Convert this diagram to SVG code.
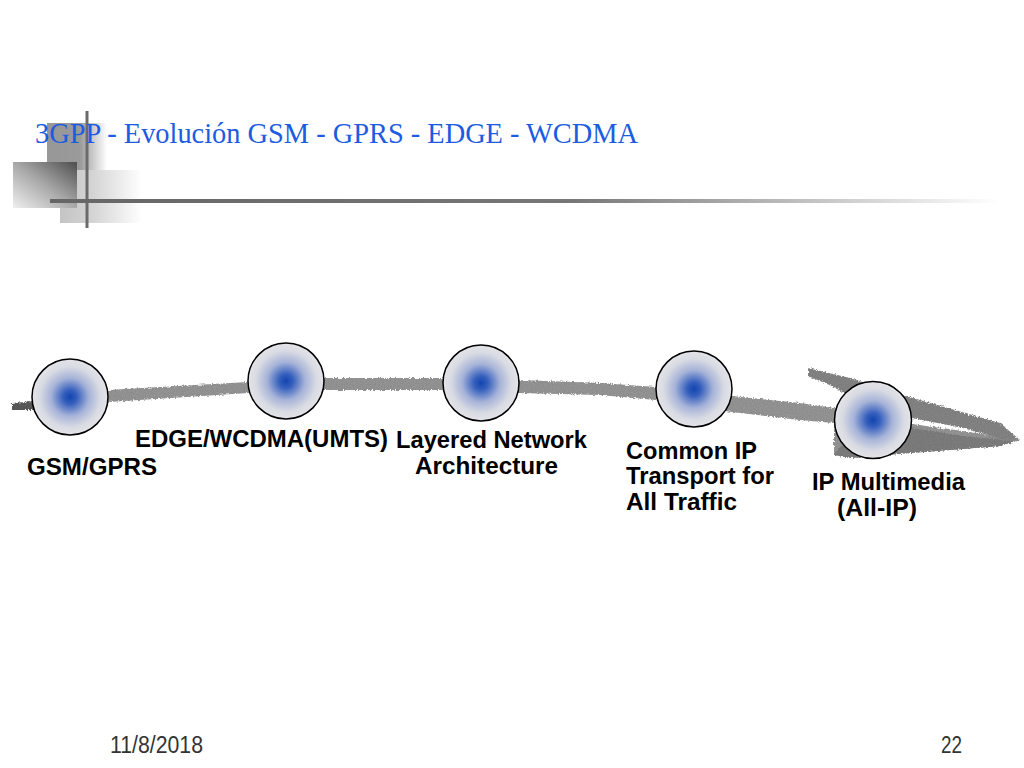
<svg xmlns="http://www.w3.org/2000/svg" width="1024" height="768" viewBox="0 0 1024 768">
<defs>
<style>
.lbl{font-family:"Liberation Sans",Arial,sans-serif;font-weight:bold;font-size:24px;fill:#000}
.foot{font-family:"Liberation Sans",Arial,sans-serif;font-size:23px;fill:#333}
.node{stroke:#000;stroke-width:1.5;fill:url(#ball)}
</style>
<radialGradient id="ball" cx="50%" cy="50%" r="50%">
<stop offset="0" stop-color="#1244ae"/>
<stop offset="0.18" stop-color="#355fbd"/>
<stop offset="0.5" stop-color="#a6b3d8"/>
<stop offset="0.8" stop-color="#d9dbe3"/>
<stop offset="1" stop-color="#e4e4e8"/>
</radialGradient>
<linearGradient id="sqA" x1="0" y1="0" x2="1" y2="0">
<stop offset="0" stop-color="#979797"/>
<stop offset="0.55" stop-color="#9a9a9a"/>
<stop offset="1" stop-color="#ffffff"/>
</linearGradient>
<linearGradient id="sqB" x1="0" y1="1" x2="1" y2="0">
<stop offset="0" stop-color="#efefef"/>
<stop offset="0.5" stop-color="#a8a8a8"/>
<stop offset="1" stop-color="#4e4e4e"/>
</linearGradient>
<linearGradient id="sqC" x1="0" y1="0" x2="1" y2="0">
<stop offset="0" stop-color="#c4c4c4"/>
<stop offset="0.4" stop-color="#d4d4d4"/>
<stop offset="1" stop-color="#ffffff"/>
</linearGradient>
<linearGradient id="hline" x1="50" y1="0" x2="1000" y2="0" gradientUnits="userSpaceOnUse">
<stop offset="0" stop-color="#666"/>
<stop offset="0.55" stop-color="#777"/>
<stop offset="1" stop-color="#fff"/>
</linearGradient>
<filter id="rough" x="-5%" y="-20%" width="110%" height="140%">
<feTurbulence type="fractalNoise" baseFrequency="0.6" numOctaves="2" seed="3" result="n"/>
<feDisplacementMap in="SourceGraphic" in2="n" scale="4" xChannelSelector="R" yChannelSelector="G" result="d"/>
<feTurbulence type="fractalNoise" baseFrequency="0.9" numOctaves="1" seed="7" result="n2"/>
<feColorMatrix in="n2" type="matrix" values="0 0 0 0 0  0 0 0 0 0  0 0 0 0 0  0 0 0 0.35 0" result="dots"/>
<feComposite in="dots" in2="d" operator="in" result="dm"/>
<feMerge><feMergeNode in="d"/><feMergeNode in="dm"/></feMerge>
</filter>
</defs>
<rect width="1024" height="768" fill="#fff"/>

<g id="decoration">
<rect x="47" y="123" width="60" height="47" fill="url(#sqA)"/>
<rect x="60" y="170" width="82" height="53" fill="url(#sqC)"/>
<rect x="13" y="162" width="64" height="46" fill="url(#sqB)"/>
<line x1="87" y1="111" x2="87" y2="228" stroke="#6a6a6a" stroke-width="3"/>
<rect x="50" y="199" width="950" height="4" fill="url(#hline)"/>
</g>

<text x="35" y="143" font-family="'Liberation Serif','Times New Roman',serif" font-size="30" fill="#1d5ce0" textLength="603" lengthAdjust="spacingAndGlyphs">3GPP - Evolución GSM - GPRS - EDGE - WCDMA</text>

<g id="connectors" filter="url(#rough)">
<path d="M12,403 L35,401 L108,390 L248,382 L324,378 L443,378 L519,380 L600,383 L656,387 L732,396 L800,403 L860,412 L912,424 L963,431 L1020,440 L1000,446 L950,450 L910,453 L850,458 L834,455 L834,423 L800,420 L732,412 L656,400 L600,395 L519,393 L443,390 L324,390 L248,393 L108,402 L35,410 L12,410 Z" fill="#9e9e9e"/>
<path d="M860,424 L912,428 L963,436 L1015,441 L1000,446 L950,450 L910,453 L850,458 L834,455 Z" fill="#858585"/>
<path d="M808,368 L850,378 L913,398 L1000,423 L1020,440 L1002,439 L963,428 L912,418 L870,408 L832,386 L808,376 Z" fill="#8c8c8c"/>
<path d="M12,403 L40,402 L40,410 L12,410 Z" fill="#606060"/>
</g>

<g id="node-gsm">
<circle class="node" cx="70" cy="397" r="38"/>
<text class="lbl" x="27" y="475" textLength="130" lengthAdjust="spacingAndGlyphs">GSM/GPRS</text>
</g>
<g id="node-edge">
<circle class="node" cx="286" cy="381" r="38"/>
<text class="lbl" x="135" y="447" textLength="253" lengthAdjust="spacingAndGlyphs">EDGE/WCDMA(UMTS)</text>
</g>
<g id="node-layered">
<circle class="node" cx="481" cy="383" r="38"/>
<text class="lbl" x="396" y="448" textLength="191" lengthAdjust="spacingAndGlyphs">Layered Network</text>
<text class="lbl" x="415" y="474" textLength="143" lengthAdjust="spacingAndGlyphs">Architecture</text>
</g>
<g id="node-commonip">
<circle class="node" cx="694" cy="389" r="38"/>
<text class="lbl" x="626" y="459" textLength="131" lengthAdjust="spacingAndGlyphs">Common IP</text>
<text class="lbl" x="626" y="484" textLength="148" lengthAdjust="spacingAndGlyphs">Transport for</text>
<text class="lbl" x="626" y="510" textLength="111" lengthAdjust="spacingAndGlyphs">All Traffic</text>
</g>
<g id="node-ipmm">
<circle class="node" cx="873" cy="420" r="38.5"/>
<text class="lbl" x="812" y="490" textLength="153" lengthAdjust="spacingAndGlyphs">IP Multimedia</text>
<text class="lbl" x="837" y="516" textLength="80" lengthAdjust="spacingAndGlyphs">(All-IP)</text>
</g>

<text class="foot" x="110" y="753" textLength="93" lengthAdjust="spacingAndGlyphs">11/8/2018</text>
<text class="foot" x="941" y="753" textLength="21" lengthAdjust="spacingAndGlyphs">22</text>
</svg>
